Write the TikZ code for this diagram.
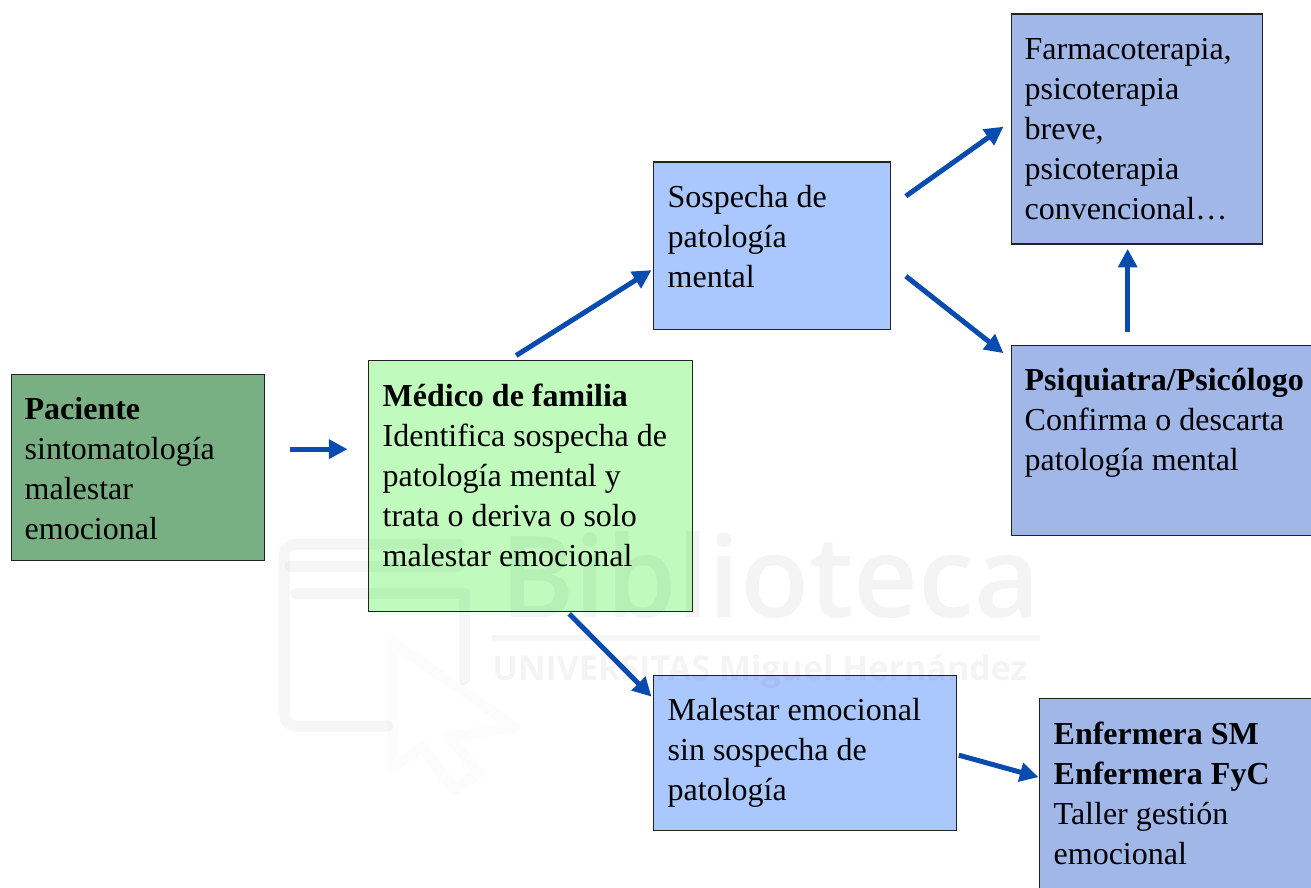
\documentclass[tikz,border=0pt]{standalone}
\usepackage{fontspec}
\usepackage{graphicx}
\setmainfont{Liberation Serif}
\newfontfamily\markfont{Open Sans}
\usetikzlibrary{arrows.meta}
\definecolor{arrowblue}{HTML}{0A4BB0}
\definecolor{pacfill}{HTML}{79B083}
\definecolor{medfill}{HTML}{C0FBBD}
\definecolor{lightblue}{HTML}{ABC8FE}
\definecolor{darkblue}{HTML}{A0B7E8}
\definecolor{edge}{HTML}{222222}
\newlength{\px}\setlength{\px}{0.75pt}
\newcommand{\boxtext}[4]{\parbox[c][#1\px][t]{#2\px}{\vspace*{#3\px}\fontsize{24pt}{30pt}\selectfont\raggedright\setlength{\parindent}{0pt}\strut #4\strut}}
\newcommand{\nudge}{\leftskip=1\px\relax}
\tikzset{
  x=0.75pt,y=-0.75pt,
  flowbox/.style={draw=edge,line width=1pt,anchor=north west,inner ysep=0pt,inner xsep=10.125pt,text=black,align=left},
  flowarrow/.style={draw=arrowblue,line width=3.75pt,-{Triangle[length=14pt,width=14pt]}},
  markstroke/.style={draw=black,opacity=0.035,line width=8.25pt,line join=round,line cap=round},
  marktext/.style={text=black,opacity=0.045,inner sep=0pt,anchor=base west},
}
\begin{document}
\begin{tikzpicture}
\useasboundingbox (0,0) rectangle (1311,888);
\clip (0,0) rectangle (1311,888);
\node[flowbox,fill=pacfill] (pac) at (10.5,373.5) {\boxtext{186}{226}{17}{\textbf{Paciente}\\sintomatología\\malestar\\emocional}};
\node[flowbox,fill=medfill] (med) at (367.5,359.5) {\boxtext{251}{297}{18}{\nudge\textbf{Médico de familia}\\Identifica sospecha de\\patología mental y\\trata o deriva o solo\\malestar emocional}};
\node[flowbox,fill=lightblue] (sos) at (652.5,161.5) {\boxtext{167}{210}{17}{\nudge Sospecha de\\patología\\mental}};
\node[flowbox,fill=darkblue] (far) at (1010.5,13.5) {\boxtext{230}{224}{17}{Farmacoterapia,\\psicoterapia\\breve,\\psicoterapia\\convencional…}};
\node[flowbox,fill=darkblue] (psi) at (1010.5,344.5) {\boxtext{190}{292}{17}{\textbf{Psiquiatra/Psicólogo}\\Confirma o descarta\\patología mental}};
\node[flowbox,fill=lightblue] (mal) at (652.5,674.5) {\boxtext{155}{276}{17}{\nudge Malestar emocional\\sin sospecha de\\patología}};
\node[flowbox,fill=darkblue] (enf) at (1038.5,697.5) {\boxtext{222}{264}{18.5}{\nudge\textbf{Enfermera SM}\\\textbf{Enfermera FyC}\\Taller gestión\\emocional}};
\draw[flowarrow] ([shift={(25.5,-18)}]pac.east) -- ([shift={(-20,-36.5)}]med.west);
\draw[flowarrow] ([shift={(-14,-4)}]med.north) -- ([shift={(-1,24.5)}]sos.west);
\draw[flowarrow] ([shift={(15,-49.5)}]sos.east) -- ([shift={(-7,-2.5)}]far.west);
\draw[flowarrow] ([shift={(15,30.5)}]sos.east) -- ([shift={(-7,-87)}]psi.west);
\draw[flowarrow] ([shift={(-43,-12.5)}]psi.north) -- ([shift={(-9,4)}]far.south);
\draw[flowarrow] ([shift={(39,2)}]med.south) -- ([shift={(-1,-56)}]mal.west);
\draw[flowarrow] ([shift={(2,2.5)}]mal.east) -- ([shift={(0,-32)}]enf.west);
% faint watermark lying over the whole figure
\draw[markstroke] (388,726) -- (296,726) to[out=180,in=-90] (284,714) -- (284,556) to[out=90,in=180] (296,544) -- (459,544);
\draw[markstroke] (290,566) -- (459,566) (296,593) -- (464,593) -- (464,680);
\draw[markstroke,opacity=0.012] (393,643) -- (515,727) -- (449,737) -- (479,773) -- (454,790) -- (423,747) -- (393,767) -- cycle;
\node[marktext] (markname) at (500,617) {\resizebox{540\px}{!}{\markfont\fontspec{Open Sans Semibold} Biblioteca}};
\draw[markstroke,line width=4.5pt,line cap=butt] (492,638) -- (1040,638);
\node[marktext] (markuni) at (492,680) {\resizebox{535\px}{!}{\markfont\bfseries UNIVERSITAS Miguel Hernández}};
\end{tikzpicture}
\end{document}
